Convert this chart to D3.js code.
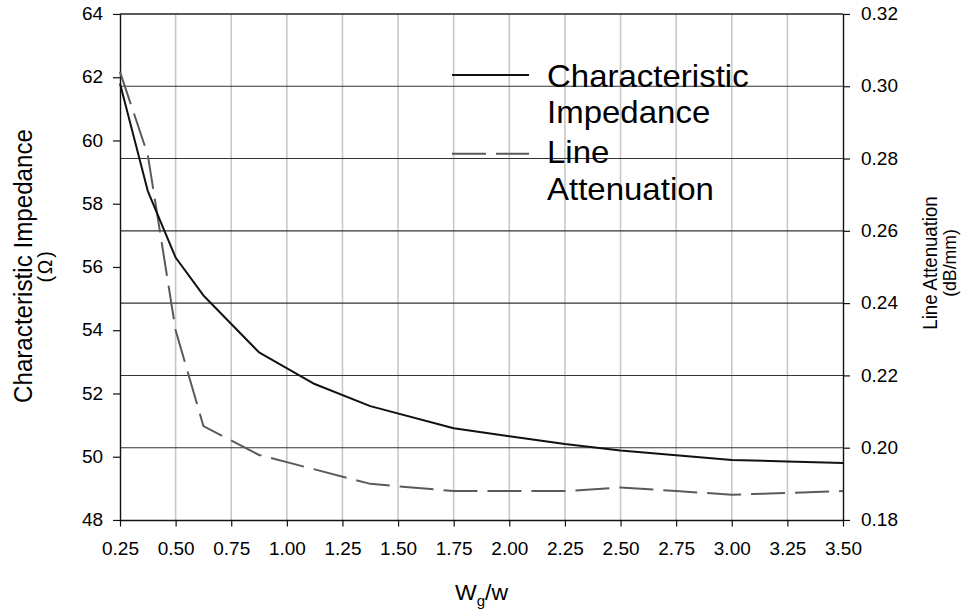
<!DOCTYPE html>
<html>
<head>
<meta charset="utf-8">
<script src="https://cdn.jsdelivr.net/npm/d3@7"></script>
<style>
  html, body { margin: 0; padding: 0; background: #fff; }
  svg { display: block; }
  text { font-family: "Liberation Sans", Arial, Helvetica, sans-serif; fill: #000; }
</style>
</head>
<body>
<div id="chart"></div>
<script>
// Ground-plane width ratio sweep: impedance (left axis) and attenuation (right axis)
const widthRatio = [0.25, 0.375, 0.5, 0.625, 0.875, 1.125, 1.375, 1.75, 2.0, 2.25, 2.5, 2.75, 3.0, 3.25, 3.5];
const impedance = [61.8, 58.4, 56.3, 55.1, 53.3, 52.3, 51.6, 50.9, 50.65, 50.4, 50.2, 50.05, 49.9, 49.85, 49.8];
const attenuation = [0.304, 0.281, 0.2325, 0.206, 0.198, 0.194, 0.190, 0.188, 0.188, 0.188, 0.189, 0.188, 0.187, 0.1875, 0.188];

const xTicks = [0.25, 0.5, 0.75, 1.0, 1.25, 1.5, 1.75, 2.0, 2.25, 2.5, 2.75, 3.0, 3.25, 3.5];
const leftTicks = [48, 50, 52, 54, 56, 58, 60, 62, 64];
const rightTicks = [0.18, 0.20, 0.22, 0.24, 0.26, 0.28, 0.30, 0.32];

const legendLabels = [["Characteristic", "Impedance"], ["Line", "Attenuation"]];
const leftTitle = ["Characteristic Impedance", "(Ω)"];
const rightTitle = ["Line Attenuation", "(dB/mm)"];

// Page size; text is drawn slightly flattened, so the drawing lives in a
// vertically squeezed viewBox.
const W = 967, H = 613, SQ = 0.93, VH = H / SQ;
const py = v => v / SQ; // screen pixels -> viewBox units (vertical)

const svg = d3.select("#chart").append("svg")
  .attr("width", W).attr("height", H)
  .attr("viewBox", `0 0 ${W} ${VH}`)
  .attr("preserveAspectRatio", "none");

const plot = { left: 120, right: 843, top: py(14), bottom: py(520) };

const x = d3.scaleLinear().domain([0.25, 3.5]).range([plot.left, plot.right]);
const yL = d3.scaleLinear().domain([48, 64]).range([plot.bottom, plot.top]);
const yR = d3.scaleLinear().domain([0.18, 0.32]).range([plot.bottom, plot.top]);

// vertical grid
svg.append("g").selectAll("line").data(xTicks.slice(1, -1)).join("line")
  .attr("x1", d => x(d)).attr("x2", d => x(d))
  .attr("y1", plot.top).attr("y2", plot.bottom)
  .attr("stroke", "#c8c8c8").attr("stroke-width", 1.6)
  .attr("vector-effect", "non-scaling-stroke");

// horizontal grid on the attenuation ticks
svg.append("g").selectAll("line").data(rightTicks.slice(1, -1)).join("line")
  .attr("x1", plot.left).attr("x2", plot.right)
  .attr("y1", d => yR(d)).attr("y2", d => yR(d))
  .attr("stroke", "#333").attr("stroke-width", 1.1)
  .attr("vector-effect", "non-scaling-stroke");

// top frame line
svg.append("line")
  .attr("x1", plot.left).attr("x2", plot.right)
  .attr("y1", plot.top).attr("y2", plot.top)
  .attr("stroke", "#222").attr("stroke-width", 1.3)
  .attr("vector-effect", "non-scaling-stroke");

const FONT_TICK = 19;

// bottom axis
const gx = svg.append("g").attr("transform", `translate(0,${plot.bottom})`)
  .call(d3.axisBottom(x).tickValues(xTicks).tickFormat(d3.format(".2f")).tickSize(7).tickSizeOuter(0));
gx.selectAll("text").attr("y", py(555) - plot.bottom).attr("dy", 0)
  .attr("font-size", FONT_TICK);

// left axis
const gl = svg.append("g").attr("transform", `translate(${plot.left},0)`)
  .call(d3.axisLeft(yL).tickValues(leftTicks).tickFormat(d3.format("d")).tickSize(7).tickPadding(10).tickSizeOuter(0));
gl.selectAll("text").attr("font-size", FONT_TICK);

// right axis
const gr = svg.append("g").attr("transform", `translate(${plot.right},0)`)
  .call(d3.axisRight(yR).tickValues(rightTicks).tickFormat(d3.format(".2f")).tickSize(7).tickPadding(11).tickSizeOuter(0));
gr.selectAll("text").attr("font-size", FONT_TICK);

[gx, gl, gr].forEach(g => {
  g.attr("font-family", null);
  g.select(".domain").attr("stroke", "#111").attr("stroke-width", 1.4).attr("vector-effect", "non-scaling-stroke");
  g.selectAll(".tick line").attr("stroke", "#111").attr("stroke-width", 1.2).attr("vector-effect", "non-scaling-stroke");
});

// series
const series = widthRatio.map((w, i) => ({ w, z: impedance[i], a: attenuation[i] }));

const DASH = "34,10";

svg.append("path").datum(series)
  .attr("fill", "none").attr("stroke", "#5a5a5a").attr("stroke-width", 2)
  .attr("stroke-dasharray", DASH)
  .attr("vector-effect", "non-scaling-stroke")
  .attr("d", d3.line().x(d => x(d.w)).y(d => yR(d.a)));

svg.append("path").datum(series)
  .attr("fill", "none").attr("stroke", "#111").attr("stroke-width", 2)
  .attr("stroke-linejoin", "round")
  .attr("vector-effect", "non-scaling-stroke")
  .attr("d", d3.line().x(d => x(d.w)).y(d => yL(d.z)));

// legend
const legendStyles = [
  { stroke: "#111", dash: null, sampleY: py(75), baselines: [py(87), py(123)] },
  { stroke: "#5a5a5a", dash: DASH, sampleY: py(153.7), baselines: [py(163), py(200)] }
];
const lg = svg.append("g");
legendLabels.forEach((lines, i) => {
  const s = legendStyles[i];
  lg.append("line")
    .attr("x1", 452).attr("x2", 529)
    .attr("y1", s.sampleY).attr("y2", s.sampleY)
    .attr("stroke", s.stroke).attr("stroke-width", 2)
    .attr("stroke-dasharray", s.dash)
    .attr("vector-effect", "non-scaling-stroke");
  lines.forEach((t, j) => {
    lg.append("text").attr("x", 547).attr("y", s.baselines[j])
      .attr("font-size", 33).text(t);
  });
});

// axis titles
svg.append("text")
  .attr("transform", `translate(31.7,${py(266)}) rotate(-90)`)
  .attr("text-anchor", "middle").attr("font-size", 26).text(leftTitle[0]);
svg.append("text")
  .attr("transform", `translate(52,${py(266)}) rotate(-90)`)
  .attr("text-anchor", "middle").attr("font-size", 21)
  .attr("letter-spacing", 2).text(leftTitle[1]);

svg.append("text")
  .attr("transform", `translate(936.7,${py(263)}) rotate(-90)`)
  .attr("text-anchor", "middle").attr("font-size", 20).text(rightTitle[0]);
svg.append("text")
  .attr("transform", `translate(956,${py(263)}) rotate(-90)`)
  .attr("text-anchor", "middle").attr("font-size", 19).text(rightTitle[1]);

const xt = svg.append("text")
  .attr("x", (plot.left + plot.right) / 2).attr("y", py(600))
  .attr("text-anchor", "middle").attr("font-size", 23);
xt.append("tspan").text("W");
xt.append("tspan").attr("dy", 6).attr("font-size", 15).text("g");
xt.append("tspan").attr("dy", -6).text("/w");
</script>
</body>
</html>
